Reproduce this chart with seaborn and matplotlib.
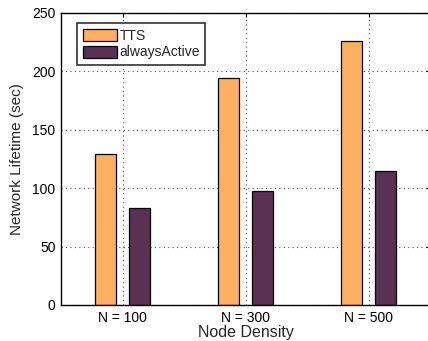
import matplotlib
matplotlib.use("Agg")
import matplotlib.pyplot as plt
import seaborn as sns
import pandas as pd

categories = ["N = 100", "N = 300", "N = 500"]
series = ["TTS", "alwaysActive"]
tts = [129, 194, 226]
always_active = [83, 98, 115]
colors = ["#FEB062", "#5A3152"]

df = pd.DataFrame({
    "density": categories * 2,
    "lifetime": tts + always_active,
    "series": [series[0]] * 3 + [series[1]] * 3,
})

sns.set_style("white")
plt.rcParams["font.family"] = ["Liberation Sans", "DejaVu Sans"]

fig = plt.figure(figsize=(4.28, 3.41), dpi=100)
ax = fig.add_axes([61 / 428, 1 - 305 / 341, 369 / 428, 292 / 341])

sns.barplot(data=df, x="density", y="lifetime", hue="series", order=categories,
            hue_order=series, palette=colors, width=0.56, gap=0.39,
            edgecolor="black", linewidth=0.9, saturation=1, ax=ax, legend=True)

ax.set_xlim(-0.5, 2.5)
ax.set_ylim(0, 250)
ax.set_yticks([0, 50, 100, 150, 200, 250])
ax.grid(True, linestyle=(0, (1, 3)), color="#555555", linewidth=0.8)
ax.set_axisbelow(True)
for s in ax.spines.values():
    s.set_color("black")
    s.set_linewidth(1.0)
ax.tick_params(direction="in", length=3, top=True, right=True, labelsize=10,
               colors="black", width=0.8, pad=4)
ax.set_xlabel("Node Density", fontsize=11.5, labelpad=0)
ax.set_ylabel("Network Lifetime (sec)", fontsize=11, labelpad=6)

leg = ax.legend(loc="upper left", bbox_to_anchor=(16 / 369, 1 - 10 / 292),
                frameon=True, fancybox=False, fontsize=10, handlelength=2.5,
                handleheight=0.95, handletextpad=0.15, borderpad=0.4,
                labelspacing=0.2, borderaxespad=0)
leg.get_frame().set_edgecolor("black")
leg.get_frame().set_linewidth(1.2)

fig.savefig("out.png", dpi=100)
